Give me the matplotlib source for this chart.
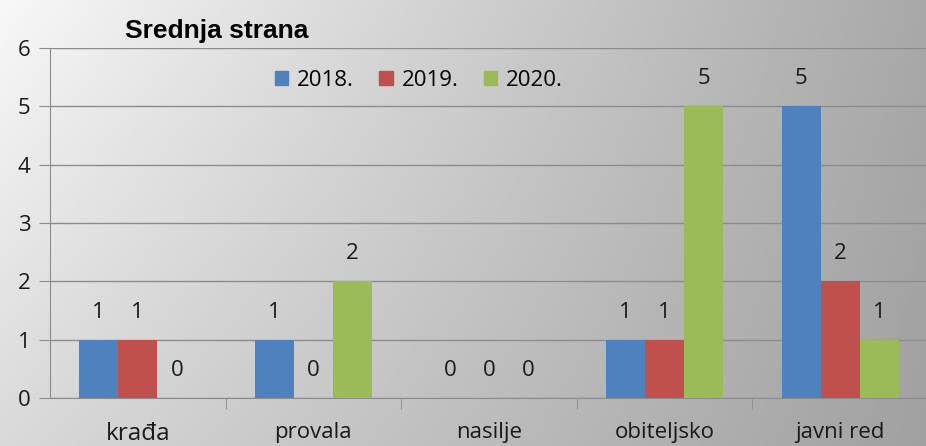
import numpy as np
import matplotlib.pyplot as plt
from matplotlib.patches import Patch

categories = ['krađa', 'provala', 'nasilje', 'obiteljsko', 'javni red']
series = ['2018.', '2019.', '2020.']
v2018 = [1, 1, 0, 1, 5]
v2019 = [1, 0, 0, 1, 2]
v2020 = [0, 2, 0, 5, 1]
colors = ['#4f81bd', '#c0504d', '#9bbb59']

plt.rcParams['font.family'] = ['Open Sans', 'DejaVu Sans']
fs = 16

fig = plt.figure(figsize=(9.26, 4.46), dpi=100)

# gray gradient background (light top-left, dark right)
bg = fig.add_axes([0, 0, 1, 1], zorder=-10)
gx, gy = np.meshgrid(np.linspace(0, 1, 300), np.linspace(0, 1, 150))
grad = 0.97 - 0.31 * gx - 0.12 * gy + 0.09 * gx * gy
bg.imshow(grad, cmap='gray', vmin=0, vmax=1, aspect='auto', extent=[0, 1, 0, 1])
bg.axis('off')

ax = fig.add_axes([50 / 926, 48 / 446, 878 / 926, 350 / 446])
ax.set_facecolor('none')

x = np.arange(len(categories))
w = 1 / 4.5
for i, vals in enumerate([v2018, v2019, v2020]):
    xs = x + (i - 1) * w
    ax.bar(xs, vals, w, color=colors[i], zorder=3)
    for xi, v in zip(xs, vals):
        ax.text(xi, v + 0.47, str(v), ha='center', va='center', fontsize=fs, color='#1a1a1a')

ax.set_xlim(-0.5, len(categories) - 0.5)
ax.set_ylim(0, 6)
ax.set_yticks(range(7))
ax.grid(axis='y', color='#8c8c8c', linewidth=1, zorder=0)
ax.set_xticks(x)
ax.set_xticklabels(categories, fontsize=fs)
ax.get_xticklabels()[0].set_fontsize(17.5)
ax.get_xticklabels()[0].set_color('black')
ax.set_xticks(np.arange(0.5, len(categories) - 0.5), minor=True)
ax.tick_params(axis='x', which='major', length=0, pad=17, labelcolor='#1a1a1a')
ax.tick_params(axis='x', which='minor', length=8, color='#8c8c8c')
ax.tick_params(axis='y', length=8, color='#8c8c8c', labelsize=fs, pad=6, labelcolor='#1a1a1a')
for s in ['top', 'right']:
    ax.spines[s].set_visible(False)
ax.spines['left'].set_color('#8c8c8c')
ax.spines['bottom'].set_color('#8c8c8c')

handles = [Patch(color=c) for c in colors]
ax.legend(handles, series, ncol=3, frameon=False, fontsize=fs,
          loc='center', bbox_to_anchor=(0.42, 0.907),
          handlelength=0.6, handleheight=0.6, handletextpad=0.4, columnspacing=1.15)

fig.text(125 / 926, 1 - 31 / 446, 'Srednja strana', fontsize=19, fontweight='bold',
         family='Liberation Sans', va='center')

fig.savefig('out.png', dpi=100)
